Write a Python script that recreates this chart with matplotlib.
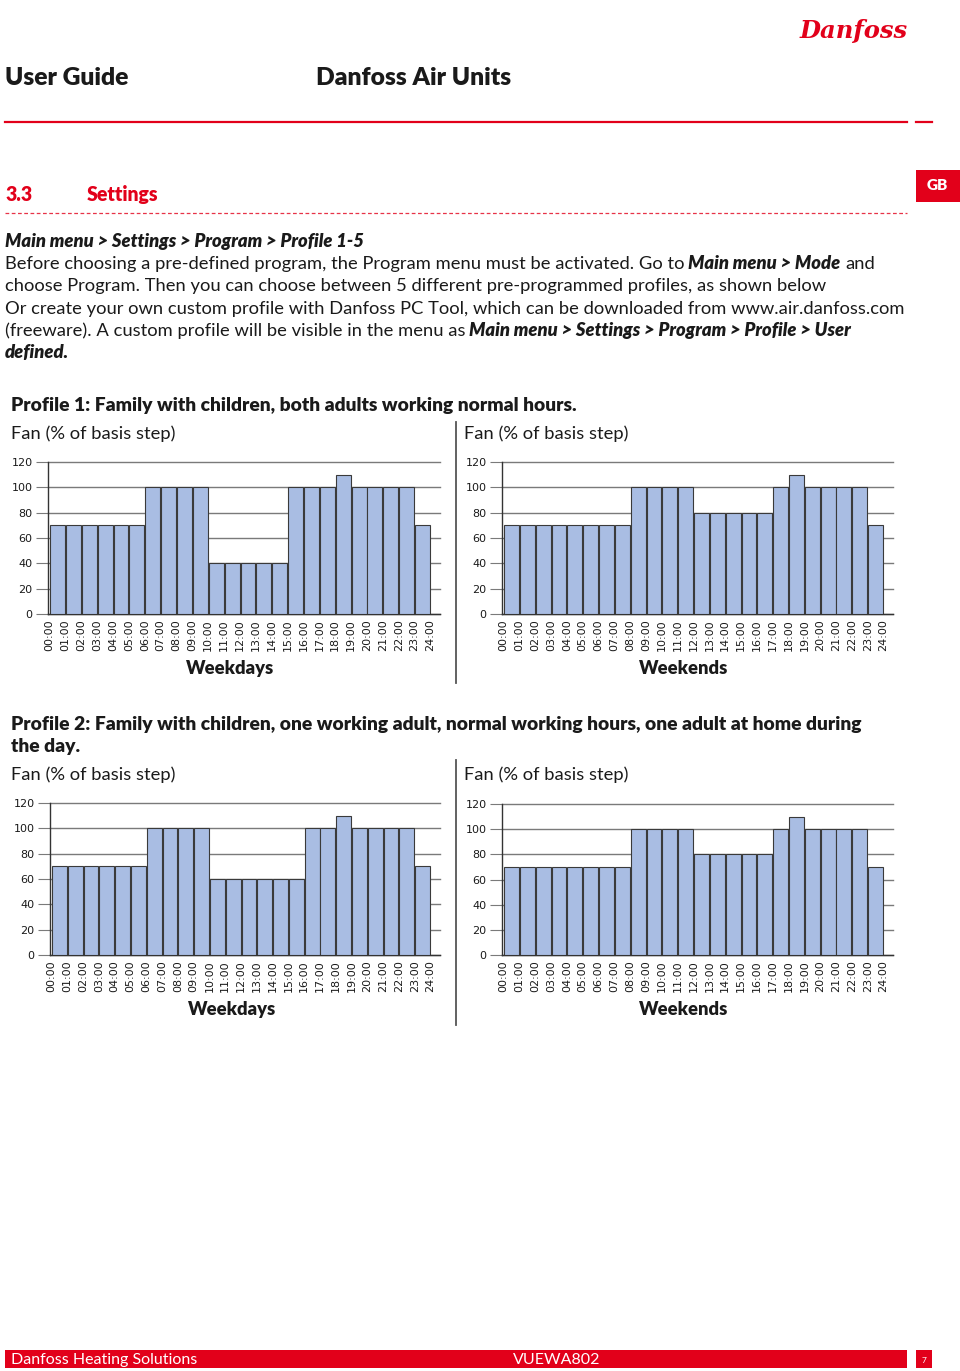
import matplotlib
matplotlib.use('Agg')
import matplotlib.pyplot as plt
from matplotlib.patches import Rectangle
from matplotlib.lines import Line2D

# hourly fan level, % of basis step (24 bars, 00:00 .. 23:00)
hour_labels = ['%02d:00' % h for h in range(25)]
p1_weekdays = [70, 70, 70, 70, 70, 70, 100, 100, 100, 100, 40, 40,
               40, 40, 40, 100, 100, 100, 110, 100, 100, 100, 100, 70]
p1_weekends = [70, 70, 70, 70, 70, 70, 70, 70, 100, 100, 100, 100,
               80, 80, 80, 80, 80, 100, 110, 100, 100, 100, 100, 70]
p2_weekdays = [70, 70, 70, 70, 70, 70, 100, 100, 100, 100, 60, 60,
               60, 60, 60, 60, 100, 100, 110, 100, 100, 100, 100, 70]
p2_weekends = [70, 70, 70, 70, 70, 70, 70, 70, 100, 100, 100, 100,
               80, 80, 80, 80, 80, 100, 110, 100, 100, 100, 100, 70]

W, H = 960, 1371
RED = '#e2001a'
BAR = '#a9bde3'
EDGE = '#3a3a3a'
GRID = '#7a7a7a'
INK = '#1a1a1a'
FONT = 'Lato'

fig = plt.figure(figsize=(W / 100, H / 100), dpi=100)
renderer = fig.canvas.get_renderer()

STYLES = {
    'n': dict(family=FONT),
    'b': dict(family=FONT, weight='heavy'),
    'bi': dict(family=FONT, weight='heavy', style='italic'),
}


def fx(x):
    return x / W


def fy(y):
    return 1 - y / H


def text_width(s, size, **kw):
    t = fig.text(0, 0, s, fontsize=size, **kw)
    w = t.get_window_extent(renderer=renderer).width
    t.remove()
    return w


def fit_size(s, width, **kw):
    return 10 * width / text_width(s, 10, **kw)


def put(x, y, s, size, **kw):
    t = fig.text(fx(x), fy(y), s, fontsize=size, va='baseline', **kw)
    return t.get_window_extent(renderer=renderer).width


def rich_line(x, y, runs, size, color=INK):
    for s, st in runs:
        kw = STYLES[st]
        if s.startswith(' '):
            x += text_width('a a', size, **kw) - text_width('aa', size, **kw)
            s = s.lstrip()
        x += put(x, y, s, size, color=color, **kw)


def hline(x0, x1, y, **kw):
    fig.add_artist(Line2D([fx(x0), fx(x1)], [fy(y), fy(y)], **kw))


def vline(x, y0, y1, **kw):
    fig.add_artist(Line2D([fx(x), fx(x)], [fy(y0), fy(y1)], **kw))


def box(x0, y0, x1, y1, color):
    fig.add_artist(Rectangle((fx(x0), fy(y1)), (x1 - x0) / W, (y1 - y0) / H,
                             color=color, lw=0))


# ---- page header ----
logo = dict(family='DejaVu Serif', weight='bold', style='italic')
s = fit_size('Danfoss', 108, **logo)
put(800, 38, 'Danfoss', s, color=RED, **logo)

s = fit_size('Danfoss Air Units', 196, **STYLES['b'])
put(5, 85, 'User Guide', s, color=INK, **STYLES['b'])
put(316, 85, 'Danfoss Air Units', s, color=INK, **STYLES['b'])
hline(5, 907, 122, color=RED, lw=1.6)
hline(916, 932, 122, color=RED, lw=1.6)

s = fit_size('Settings', 72, **STYLES['b'])
put(5, 201, '3.3', s, color=RED, **STYLES['b'])
put(87, 201, 'Settings', s, color=RED, **STYLES['b'])
hline(5, 907, 213, color=RED, lw=0.9, ls=(0, (3, 2)), alpha=0.8)

box(916, 170, 960, 202, RED)
fig.text(fx(937), fy(185), 'GB', color='white', fontsize=11, ha='center', va='center',
         **STYLES['b'])

# ---- body text ----
body = [
    [('Main menu > Settings > Program > Profile 1-5', 'bi')],
    [('Before choosing a pre-defined program, the Program menu must be activated. Go to', 'n'),
     (' Main menu > Mode', 'bi'), (' and', 'n')],
    [('choose Program. Then you can choose between 5 different pre-programmed profiles, as shown below', 'n')],
    [('Or create your own custom profile with Danfoss PC Tool, which can be downloaded from www.air.danfoss.com', 'n')],
    [('(freeware). A custom profile will be visible in the menu as', 'n'),
     (' Main menu > Settings > Program > Profile > User', 'bi')],
    [('defined.', 'bi')],
]
body_size = fit_size(body[3][0][0], 898, **STYLES['n'])
for i, runs in enumerate(body):
    rich_line(5, 247 + i * 22.2, runs, body_size)

# ---- charts ----
title_size = fit_size('Profile 1: Family with children, both adults working normal hours.', 569,
                      **STYLES['b'])
fan_size = fit_size('Fan (% of basis step)', 165, **STYLES['n'])
lab_size = fit_size('Weekdays', 88, **STYLES['b'])


def draw_chart(left, right, top, bottom, values, label):
    ax = fig.add_axes([fx(left), fy(bottom), (right - left) / W, (bottom - top) / H])
    xs = [i + 0.03 for i in range(len(values))]
    ax.bar(xs, values, width=0.94, align='edge', color=BAR, edgecolor=EDGE,
           linewidth=0.8, zorder=3)
    ax.set_xlim(-0.1, 24.6)
    ax.set_ylim(0, 120)
    ax.set_yticks(range(0, 121, 20))
    ax.set_xticks(range(25))
    ax.set_xticklabels(hour_labels, rotation=90)
    ax.grid(axis='y', color=GRID, lw=1)
    ax.set_axisbelow(True)
    for sp in ['top', 'right']:
        ax.spines[sp].set_visible(False)
    for sp in ['left', 'bottom']:
        ax.spines[sp].set_color('#333333')
        ax.spines[sp].set_linewidth(1)
    ax.tick_params(axis='y', length=9, color=GRID, labelsize=8, pad=2, labelcolor=INK)
    ax.tick_params(axis='x', length=0, labelsize=8, pad=4, labelcolor=INK)
    for g in ax.get_ygridlines():
        g.set_clip_on(False)
    put(left + 182, bottom + 60, label, lab_size, ha='center', color=INK, **STYLES['b'])
    return ax


# profile 1
put(11, 411, 'Profile 1: Family with children, both adults working normal hours.', title_size,
    color=INK, **STYLES['b'])
put(11, 439, 'Fan (% of basis step)', fan_size, color=INK, **STYLES['n'])
put(464, 439, 'Fan (% of basis step)', fan_size, color=INK, **STYLES['n'])
vline(456, 422, 683, color='#555555', lw=1.3)
draw_chart(48, 440, 462, 614, p1_weekdays, 'Weekdays')
draw_chart(502, 893, 462, 614, p1_weekends, 'Weekends')

# profile 2
put(11, 730, 'Profile 2: Family with children, one working adult, normal working hours, '
    'one adult at home during', title_size, color=INK, **STYLES['b'])
put(11, 752, 'the day.', title_size, color=INK, **STYLES['b'])
put(11, 780, 'Fan (% of basis step)', fan_size, color=INK, **STYLES['n'])
put(464, 780, 'Fan (% of basis step)', fan_size, color=INK, **STYLES['n'])
vline(456, 760, 1025, color='#555555', lw=1.3)
draw_chart(50, 440, 803, 955, p2_weekdays, 'Weekdays')
draw_chart(502, 893, 804, 955, p2_weekends, 'Weekends')

# ---- footer ----
box(5, 1350, 907, 1368, RED)
box(916, 1350, 932, 1368, RED)
fs = fit_size('Danfoss Heating Solutions', 187, **STYLES['n'])
put(11, 1364, 'Danfoss Heating Solutions', fs, color='white', **STYLES['n'])
put(513, 1364, 'VUEWA802', fs, color='white', **STYLES['n'])
put(924, 1363, '7', 6, color='white', ha='center', **STYLES['n'])

fig.savefig('out.png', dpi=100, facecolor='white')
